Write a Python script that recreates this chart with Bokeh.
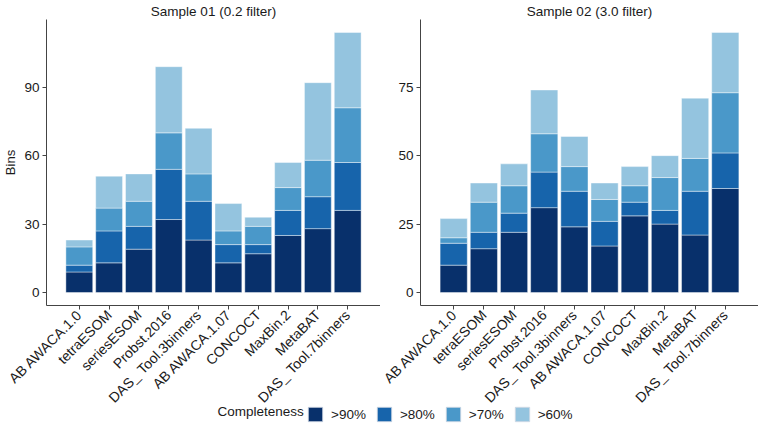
import math
from bokeh.plotting import figure
from bokeh.models import (FactorRange, Range1d, FixedTicker, Legend, LegendItem,
                          ColumnDataSource, Label)
from bokeh.layouts import column, row
from bokeh.embed import file_html
from bokeh.resources import INLINE

methods = ["AB AWACA.1.0", "tetraESOM", "seriesESOM", "Probst.2016", "DAS_ Tool.3binners",
           "AB AWACA.1.07", "CONCOCT", "MaxBin.2", "MetaBAT", "DAS_ Tool.7binners"]
levels = [">90%", ">80%", ">70%", ">60%"]
colors = ["#08306B", "#1764AB", "#4A98C9", "#94C4DF"]

# Sample 01 (0.2 filter): bins per completeness class
s1_gt90 = [9, 13, 19, 32, 23, 13, 17, 25, 28, 36]
s1_gt80 = [3, 14, 10, 22, 17, 8, 4, 11, 14, 21]
s1_gt70 = [8, 10, 11, 16, 12, 6, 8, 10, 16, 24]
s1_gt60 = [3, 14, 12, 29, 20, 12, 4, 11, 34, 33]

# Sample 02 (3.0 filter)
s2_gt90 = [10, 16, 22, 31, 24, 17, 28, 25, 21, 38]
s2_gt80 = [8, 6, 7, 13, 13, 9, 5, 5, 16, 13]
s2_gt70 = [2, 11, 10, 14, 9, 8, 6, 12, 12, 22]
s2_gt60 = [7, 7, 8, 16, 11, 6, 7, 8, 22, 22]

titles = ["Sample 01 (0.2 filter)", "Sample 02 (3.0 filter)"]
yticks1 = [0, 30, 60, 90]
yticks2 = [0, 25, 50, 75]

FONT = "Liberation Sans"
TXT = "#1a1a1a"
AX = "#444444"


def panel(title, vals, yticks, width, ylabel=None):
    src = ColumnDataSource(dict(method=methods, g90=vals[0], g80=vals[1], g70=vals[2], g60=vals[3]))
    totals = [a + b + c + d for a, b, c, d in zip(*vals)]
    ymax = max(totals)
    p = figure(width=width, height=414, x_range=FactorRange(*methods, range_padding=0.12),
               y_range=Range1d(-0.05 * ymax, 1.05 * ymax),
               output_backend="svg", toolbar_location=None,
               min_border_left=40, min_border_right=0, min_border_top=0, min_border_bottom=0)
    p.vbar_stack(["g90", "g80", "g70", "g60"], x="method", width=0.9, source=src,
                 fill_color=colors, line_color="white", line_width=0.6, line_alpha=0.7)
    p.title.text = title
    p.title.align = "center"
    p.title.text_font = FONT
    p.title.text_font_size = "13.5px"
    p.title.text_font_style = "normal"
    p.title.text_color = TXT
    p.title.standoff = 2
    p.title.offset = 0
    p.grid.visible = False
    p.outline_line_color = None
    p.yaxis.ticker = FixedTicker(ticks=yticks)
    for ax in (p.xaxis, p.yaxis):
        ax.axis_line_color = AX
        ax.axis_line_width = 1
        ax.major_tick_line_color = AX
        ax.major_tick_out = 4
        ax.major_tick_in = 0
        ax.minor_tick_line_color = None
        ax.major_label_text_font = FONT
        ax.major_label_text_color = TXT
    p.yaxis.major_label_text_font_size = "13.5px"
    p.xaxis.major_label_text_font_size = "14px"
    p.xaxis.major_label_orientation = math.pi / 4
    p.xaxis.major_label_standoff = 3
    p.yaxis.major_label_standoff = 3
    if ylabel:
        p.yaxis.axis_label = ylabel
        p.yaxis.axis_label_text_font = FONT
        p.yaxis.axis_label_text_font_size = "13px"
        p.yaxis.axis_label_text_font_style = "normal"
        p.yaxis.axis_label_text_color = TXT
        p.yaxis.axis_label_standoff = 3
    return p


p1 = panel(titles[0], [s1_gt90, s1_gt80, s1_gt70, s1_gt60], yticks1, 380, ylabel="Bins")
p2 = panel(titles[1], [s2_gt90, s2_gt80, s2_gt70, s2_gt60], yticks2, 378)

# legend strip (proxy glyphs sit outside the visible range)
pl = figure(width=758, height=25, x_range=Range1d(0, 758), y_range=Range1d(0, 25),
            output_backend="svg", toolbar_location=None, min_border=0,
            x_axis_location=None, y_axis_location=None, margin=(-16, 0, 0, 0))
pl.grid.visible = False
pl.outline_line_color = None
pl.background_fill_color = None
pl.border_fill_color = None
items = []
for lev, c in zip(levels, colors):
    r = pl.rect(x=[-100], y=[-100], width=1, height=1, fill_color=c, line_color="#cfd8e3",
                line_width=0.8)
    items.append(LegendItem(label=lev, renderers=[r]))
leg = Legend(items=items, orientation="horizontal", location=(306, 0),
             glyph_width=18, glyph_height=18, label_standoff=7, spacing=9,
             padding=3, margin=0, border_line_color=None, background_fill_alpha=0,
             label_text_font=FONT, label_text_font_size="13.5px", label_text_color=TXT)
pl.add_layout(leg, "center")
pl.add_layout(Label(x=217, y=12.5, text="Completeness", text_baseline="middle",
                    text_font=FONT, text_font_size="13.5px", text_color=TXT))

layout = column(row(p1, p2), pl, spacing=0)
open("out.html", "w").write(file_html(layout, INLINE))
